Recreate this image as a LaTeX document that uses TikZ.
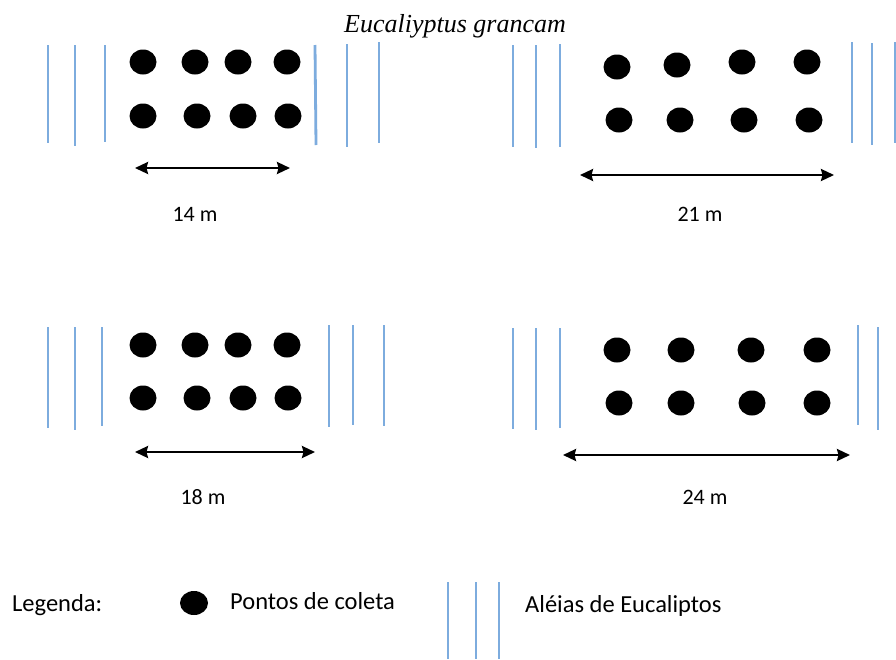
\documentclass[tikz,border=0pt]{standalone}
\usepackage{fontspec}
\setmainfont{Carlito}
\newfontfamily\titlefont{Liberation Serif}
\usetikzlibrary{arrows.meta,shapes.geometric}
\definecolor{alleyblue}{RGB}{125,172,222}
\begin{document}
\begin{tikzpicture}[x=1pt,y=-1pt,
  alley/.style={draw=alleyblue,line width=2.8pt},
  dot/.style={ellipse,fill=black,inner sep=0pt,minimum width=27pt,minimum height=25pt},
  dimarrow/.style={{Stealth[length=13pt,width=12pt,inset=1.5pt]}-{Stealth[length=13pt,width=12pt,inset=1.5pt]},line width=2.4pt},
  dimlabel/.style={anchor=base,inner sep=0pt,font=\fontsize{22}{26}\selectfont},
  legtext/.style={anchor=base west,inner sep=0pt,font=\fontsize{24.5}{29}\selectfont},
  titletext/.style={anchor=base,inner sep=0pt,font=\titlefont\itshape\fontsize{26}{31}\selectfont}]
\useasboundingbox (0,0) rectangle (896,659);
\fill[white] (0,0) rectangle (896,659);

% title
\node[titletext] (title) at (455,32) {Eucaliyptus grancam};

% alleys of eucalyptus (blue lines)
\foreach \xa/\ya/\xb/\yb in {
  48/45/48/143, 75/45/75/146, 105/45/105/142,
  315/45/316/145, 347/44/347/147, 379/42/379/143,
  513/45/513/147, 536/45/536/148, 560/44/560/147,
  852/42/852/143, 872/43/872/145, 895/42/895/143,
  48/327/48/428, 75/327/75/430, 102/327/102/426,
  329/325/329/427, 353/325/353/425, 384/325/384/426,
  513/328/513/429, 536/328/536/430, 560/328/560/428,
  858/325/858/425, 878/327/878/430,
  448/582/448/659, 476/582/476/659, 499/582/499/659}
  \draw[alley] (\xa,\ya) -- (\xb,\yb);

% sampling points
\foreach \x/\y [count=\i] in {143/62,195/62,238/62,287/62,143/116,197/116,243/116,288/116}
  \node[dot] (tl\i) at (\x,\y) {};
\foreach \x/\y [count=\i] in {617/67,677/65,742/62,807/62,619/120,680/120,744/120,809/120}
  \node[dot] (tr\i) at (\x,\y) {};
\foreach \x/\y [count=\i] in {143/345,195/345,238/345,287/345,143/398,197/398,243/398,288/398}
  \node[dot] (bl\i) at (\x,\y) {};
\foreach \x/\y [count=\i] in {617/350,681/350,751/350,817/350,619/403,681/403,752/403,817/403}
  \node[dot] (br\i) at (\x,\y) {};

% dimension arrows
\coordinate (tlA) at (135,168); \coordinate (tlB) at (290,168);
\coordinate (trA) at (580,175); \coordinate (trB) at (834,175);
\coordinate (blA) at (135,452); \coordinate (blB) at (315,452);
\coordinate (brA) at (563,455); \coordinate (brB) at (850,455);
\draw[dimarrow] (tlA) -- (tlB);
\draw[dimarrow] (trA) -- (trB);
\draw[dimarrow] (blA) -- (blB);
\draw[dimarrow] (brA) -- (brB);

% dimension labels
\node[dimlabel] (l14) at (195,221) {14 m};
\node[dimlabel] (l21) at (700,221) {21 m};
\node[dimlabel] (l18) at (203,504) {18 m};
\node[dimlabel] (l24) at (705,504) {24 m};

% legend
\node[legtext] (legenda) at (12,611) {Legenda:};
\node[dot,minimum width=28pt,minimum height=24pt] (legdot) at (194,603) {};
\node[legtext] (pontos) at (230,609) {Pontos de coleta};
\node[legtext] (aleias) at (525,612) {Aléias de Eucaliptos};
\end{tikzpicture}
\end{document}
